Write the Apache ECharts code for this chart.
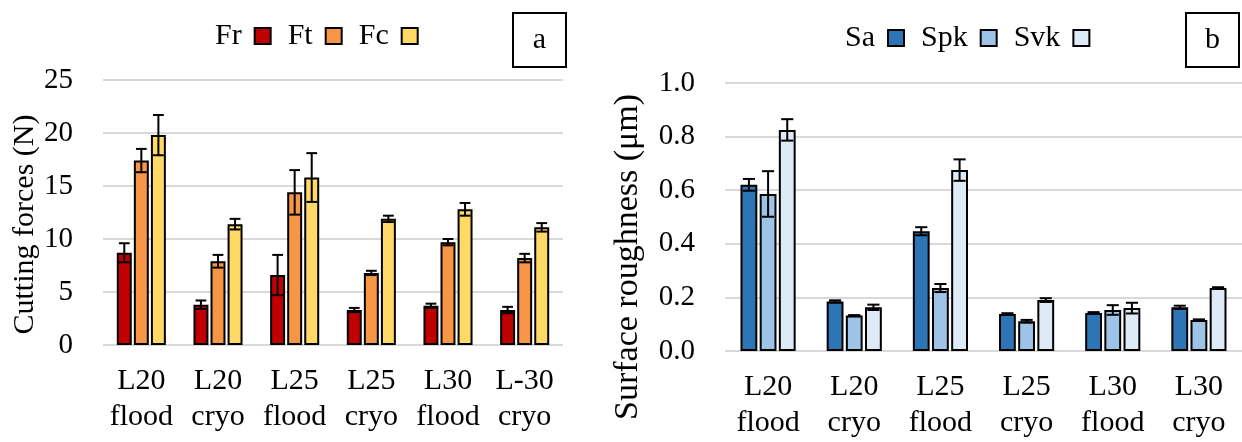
<!DOCTYPE html>
<html>
<head>
<meta charset="utf-8">
<script src="https://cdn.jsdelivr.net/npm/echarts@6/dist/echarts.min.js"></script>
<style>
html, body { margin: 0; padding: 0; background: #fff; }
#main { width: 1242px; height: 442px; }
</style>
</head>
<body>
<div id="main"></div>
<script>
// chart a - cutting forces (N)
var catsA = ['L20\nflood', 'L20\ncryo', 'L25\nflood', 'L25\ncryo', 'L30\nflood', 'L-30\ncryo'];
var fr    = [8.7, 3.8, 6.6, 3.3, 3.7, 3.3];
var frErr = [0.9, 0.4, 1.9, 0.2, 0.2, 0.3];
var ft    = [17.4, 7.9, 14.4, 6.8, 9.7, 8.2];
var ftErr = [1.1, 0.6, 2.1, 0.2, 0.3, 0.4];
var fc    = [19.8, 11.4, 15.8, 11.9, 12.8, 11.1];
var fcErr = [1.9, 0.5, 2.3, 0.3, 0.6, 0.4];
var ticksA = [0, 5, 10, 15, 20, 25];

// chart b - surface roughness (um)
var catsB = ['L20\nflood', 'L20\ncryo', 'L25\nflood', 'L25\ncryo', 'L30\nflood', 'L30\ncryo'];
var sa     = [0.62, 0.185, 0.447, 0.138, 0.142, 0.163];
var saErr  = [0.022, 0.004, 0.015, 0.003, 0.003, 0.006];
var spk    = [0.586, 0.132, 0.235, 0.111, 0.153, 0.116];
var spkErr = [0.085, 0.002, 0.015, 0.005, 0.018, 0.002];
var svk    = [0.825, 0.163, 0.675, 0.19, 0.16, 0.235];
var svkErr = [0.04, 0.01, 0.04, 0.007, 0.02, 0.003];
var ticksB = [0, 0.2, 0.4, 0.6, 0.8, 1.0];

var FONT = 'Liberation Serif';
var CAT_GAP = 0.36, BAR_GAP = 0.14;

var myChart = echarts.init(document.getElementById('main'));

function barSeries(name, data, color, g) {
    return {
        name: name,
        type: 'bar',
        xAxisIndex: g,
        yAxisIndex: g,
        data: data,
        barGap: (BAR_GAP * 100) + '%',
        barCategoryGap: (CAT_GAP * 100) + '%',
        itemStyle: { color: color, borderColor: '#000', borderWidth: 2 }
    };
}

// error bars drawn on top of bar idx (0..2) of each group
function errSeries(vals, errs, idx, g) {
    return {
        type: 'custom',
        xAxisIndex: g,
        yAxisIndex: g,
        z: 10,
        silent: true,
        encode: { x: 0, y: [1, 2] },
        data: vals.map(function(v, i){ return [i, v - errs[i], v + errs[i]]; }),
        renderItem: function(params, api){
            var band = api.size([1, 0])[0];
            var used = band * (1 - CAT_GAP);
            var w = used / (3 + 2 * BAR_GAP);
            var cx = api.coord([api.value(0), 0])[0] - used / 2 + w / 2 + idx * w * (1 + BAR_GAP);
            var lo = api.coord([api.value(0), api.value(1)])[1];
            var hi = api.coord([api.value(0), api.value(2)])[1];
            var cap = w * 0.36;
            var st = { stroke: '#000', lineWidth: 2 };
            return {
                type: 'group',
                children: [
                    { type: 'line', shape: { x1: cx, y1: lo, x2: cx, y2: hi }, style: st },
                    { type: 'line', shape: { x1: cx - cap, y1: hi, x2: cx + cap, y2: hi }, style: st },
                    { type: 'line', shape: { x1: cx - cap, y1: lo, x2: cx + cap, y2: lo }, style: st }
                ]
            };
        }
    };
}

function labelBox(x, txt) {
    return {
        type: 'group', left: x, top: 12,
        children: [
            { type: 'rect', shape: { x: 0, y: 0, width: 53, height: 54 },
              style: { fill: '#fff', stroke: '#000', lineWidth: 2 } },
            { type: 'text', x: 26.5, y: 27,
              style: { text: txt, font: '30px "Liberation Serif"', fill: '#000', align: 'center', verticalAlign: 'middle' } }
        ]
    };
}

var legendCommon = {
    align: 'right',
    itemWidth: 16,
    itemHeight: 16,
    icon: 'rect',
    itemGap: 16,
    itemStyle: { borderColor: '#000', borderWidth: 2 },
    textStyle: { fontFamily: FONT, fontSize: 30, color: '#000', padding: [0, 8, 0, 0] },
    selectedMode: false
};

var yAxisCommon = {
    type: 'value',
    min: 0,
    nameLocation: 'middle',
    axisLine: { show: false },
    axisTick: { show: false },
    axisLabel: { fontFamily: FONT, fontSize: 29, color: '#000', margin: 30 },
    splitLine: { lineStyle: { color: '#d9d9d9', width: 2 } }
};

var xAxisCommon = {
    type: 'category',
    axisLine: { show: false },
    axisTick: { show: false },
    axisLabel: { fontFamily: FONT, fontSize: 30, color: '#000', lineHeight: 36, margin: 18, interval: 0 }
};

var option = {
    backgroundColor: '#fff',
    animation: false,
    legend: [
        echarts.util.merge({ left: 210, top: 16, data: ['Fr', 'Ft', 'Fc'] }, legendCommon, true),
        echarts.util.merge({ left: 840, top: 18, data: ['Sa', 'Spk', 'Svk'] }, legendCommon, true)
    ],
    grid: [
        { left: 103, right: 679, top: 80, bottom: 97 },
        { left: 725, right: 0, top: 83, bottom: 91 }
    ],
    xAxis: [
        echarts.util.merge({ gridIndex: 0, data: catsA }, xAxisCommon, true),
        echarts.util.merge({ gridIndex: 1, data: catsB }, xAxisCommon, true)
    ],
    yAxis: [
        echarts.util.merge({ gridIndex: 0, max: ticksA[ticksA.length - 1], interval: ticksA[1],
            name: 'Cutting forces (N)', nameGap: 63,
            nameTextStyle: { fontFamily: FONT, fontSize: 30, color: '#000', padding: [0, 24, 0, 0] }
        }, yAxisCommon, true),
        echarts.util.merge({ gridIndex: 1, max: ticksB[ticksB.length - 1], interval: ticksB[1],
            name: 'Surface roughness (\u03bcm)', nameGap: 80,
            nameTextStyle: { fontFamily: FONT, fontSize: 34, color: '#000', padding: [0, 80, 0, 0] },
            axisLabel: { formatter: function(v){ return v.toFixed(1); } } }, yAxisCommon, true)
    ],
    series: [
        barSeries('Fr', fr, '#c00000', 0),
        barSeries('Ft', ft, '#f79646', 0),
        barSeries('Fc', fc, '#ffd966', 0),
        errSeries(fr, frErr, 0, 0),
        errSeries(ft, ftErr, 1, 0),
        errSeries(fc, fcErr, 2, 0),
        barSeries('Sa', sa, '#2e75b6', 1),
        barSeries('Spk', spk, '#9dc3e6', 1),
        barSeries('Svk', svk, '#deebf7', 1),
        errSeries(sa, saErr, 0, 1),
        errSeries(spk, spkErr, 1, 1),
        errSeries(svk, svkErr, 2, 1)
    ],
    graphic: [labelBox(512, 'a'), labelBox(1185, 'b')]
};

myChart.setOption(option);
</script>
</body>
</html>
